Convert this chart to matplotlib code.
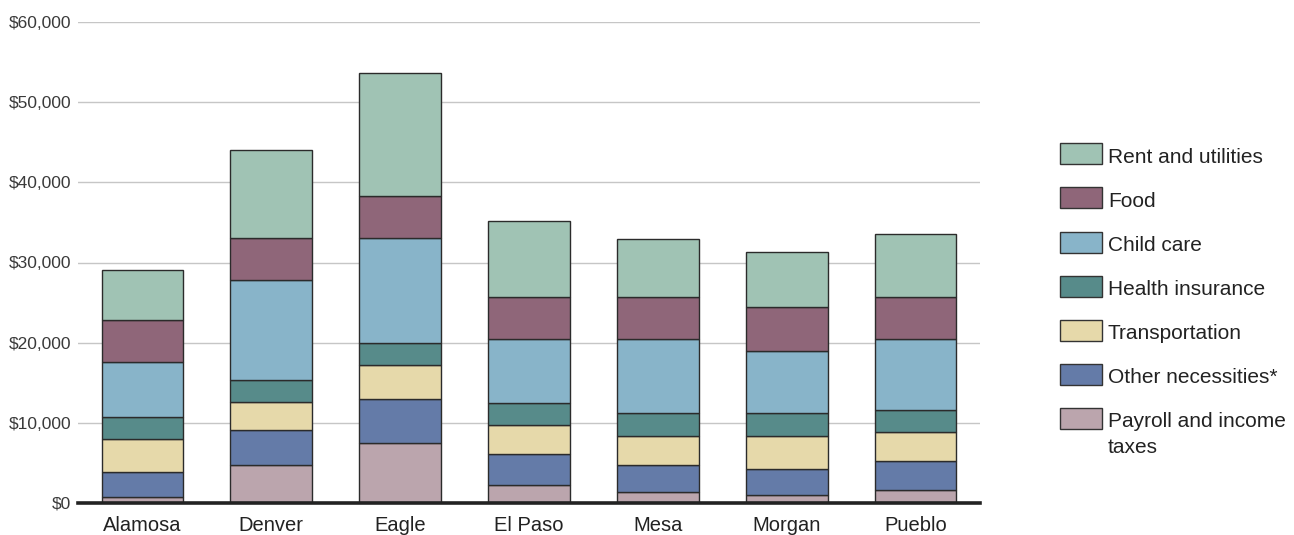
import matplotlib.pyplot as plt
import numpy as np
from matplotlib.patches import Rectangle

plt.rcParams['font.family'] = ['Liberation Sans', 'DejaVu Sans']

counties = ['Alamosa', 'Denver', 'Eagle', 'El Paso', 'Mesa', 'Morgan', 'Pueblo']

# annual cost, dollars (stacked bottom to top)
payroll_taxes = [720, 4770, 7500, 2200, 1400, 1000, 1600]
other_necessities = [3110, 4390, 5500, 3960, 3400, 3300, 3600]
transportation = [4100, 3410, 4200, 3540, 3600, 4100, 3630]
health_insurance = [2850, 2770, 2770, 2800, 2850, 2850, 2770]
child_care = [6820, 12460, 13130, 8000, 9150, 7750, 8900]
food = [5240, 5300, 5200, 5200, 5270, 5400, 5250]
rent_utilities = [6260, 10900, 15400, 9500, 7230, 6900, 7850]

series = [
    ('Payroll and income\ntaxes', payroll_taxes, '#bba5ad'),
    ('Other necessities*', other_necessities, '#647ba8'),
    ('Transportation', transportation, '#e6d9aa'),
    ('Health insurance', health_insurance, '#578b8a'),
    ('Child care', child_care, '#88b4c9'),
    ('Food', food, '#8f6679'),
    ('Rent and utilities', rent_utilities, '#a0c3b4'),
]

W, H = 1294, 535
fig = plt.figure(figsize=(W / 100, H / 100), dpi=100, facecolor='white')
ax = fig.add_axes([78 / W, 32 / H, 902 / W, 481 / H])

x = np.arange(len(counties))
bottom = np.zeros(len(counties))
for label, vals, color in series:
    ax.bar(x, vals, width=0.635, bottom=bottom, color=color,
           edgecolor='#2b2b2b', linewidth=1.0, zorder=3)
    bottom += np.array(vals)

ax.set_xlim(-0.5, len(counties) - 0.5)
ax.set_ylim(0, 60000)
ticks = np.arange(0, 60001, 10000)
ax.set_yticks(ticks)
ax.set_yticklabels([f'${t:,}' for t in ticks], fontsize=12.5, color='#3a3a3a')
ax.set_xticks(x)
ax.set_xticklabels(counties, fontsize=14.5, color='#222222')
ax.tick_params(axis='both', length=0)
ax.tick_params(axis='y', pad=5)
ax.tick_params(axis='x', pad=9.5)

ax.grid(axis='y', color='#c6c6c6', linewidth=1.0, zorder=0)
ax.set_axisbelow(True)
for s in ax.spines.values():
    s.set_visible(False)
ax.axhline(0, color='#222222', linewidth=2.6, zorder=5, clip_on=False)

# legend, top entry first
row_y = 153.8
for label, vals, color in reversed(series):
    ry = 1 - row_y / H
    fig.patches.append(Rectangle((1060 / W, ry - 10.5 / H), 42 / W, 21 / H,
                                 transform=fig.transFigure, facecolor=color,
                                 edgecolor='#333333', linewidth=1.0))
    for k, line in enumerate(label.split('\n')):
        fig.text(1108 / W, ry - (9 + k * 26) / H, line, fontsize=15,
                 color='#222222', va='baseline')
    row_y += 44.1

fig.savefig('out.png', dpi=100, facecolor='white')
